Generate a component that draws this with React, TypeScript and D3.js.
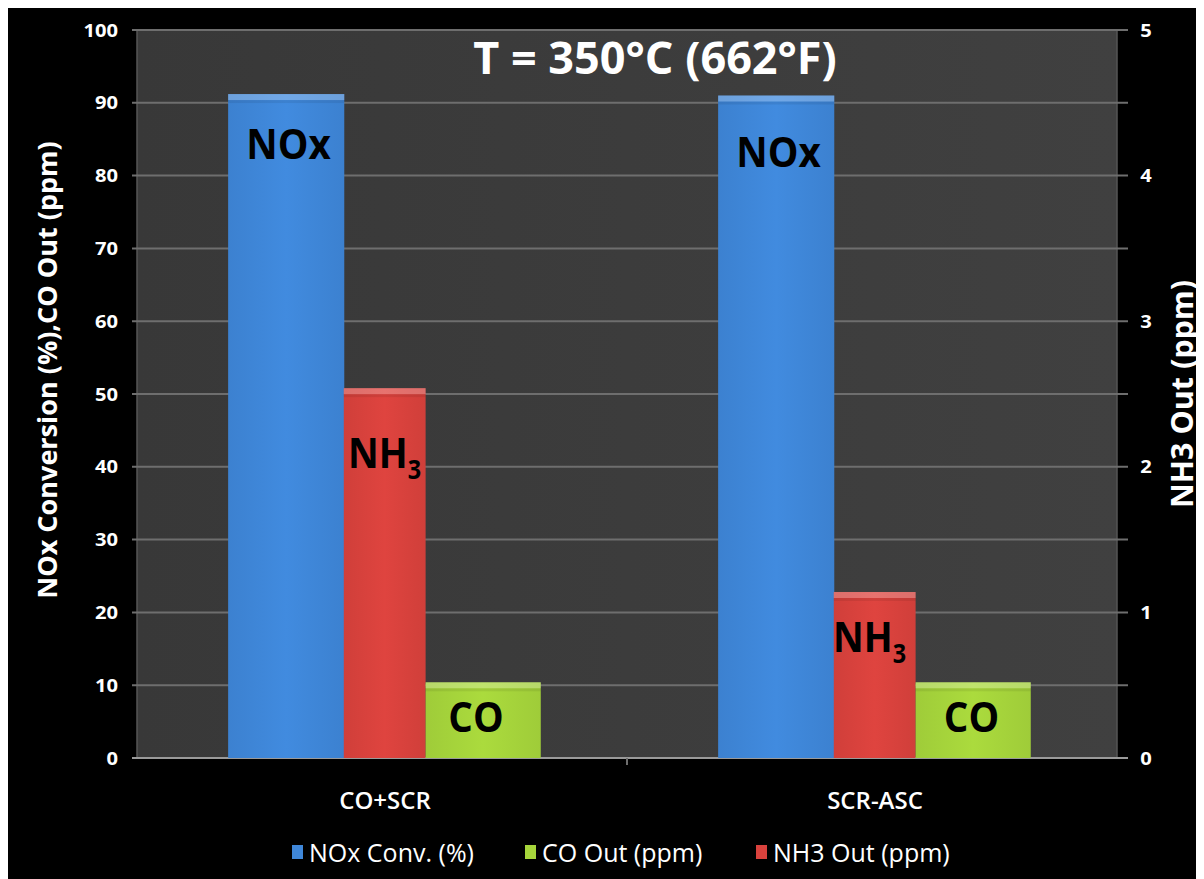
import * as d3 from "d3";

// chart values
const categories = ["CO+SCR", "SCR-ASC"];
const noxConversion = [91.2, 91.0]; // %
const coOut = [10.4, 10.4]; // ppm, left axis
const nh3Out = [2.54, 1.14]; // ppm, right axis
const leftTicks = [0, 10, 20, 30, 40, 50, 60, 70, 80, 90, 100];
const rightTicks = [0, 1, 2, 3, 4, 5];
const legendLabels = ["NOx Conv. (%)", "CO Out (ppm)", "NH3 Out (ppm)"];

const W = 1196;
const H = 874;
const margin = { top: 25, right: 87, bottom: 121, left: 129 };
const FONT = "'Open Sans', 'Noto Sans', sans-serif";

const BLUE = "#3f87d9";
const RED = "#d9423d";
const GREEN = "#a6d53b";

// text squeezed or stretched sideways, the source font is Calibri-like
function SText(props: {
  x: number;
  y: number;
  sx?: number;
  anchor?: string;
  size: number;
  weight?: number | string;
  fill?: string;
  children: any;
}) {
  const { x, y, sx = 1, anchor = "start", size, weight = "normal", fill = "#fff", children } = props;
  return (
    <text
      transform={`translate(${x},${y}) scale(${sx},1)`}
      textAnchor={anchor}
      fontSize={size}
      fontWeight={weight}
      fill={fill}
    >
      {children}
    </text>
  );
}

export default function App() {
  const x = d3
    .scaleBand()
    .domain(categories)
    .range([margin.left, W - margin.right]);
  const y = d3.scaleLinear().domain([0, 100]).range([H - margin.bottom, margin.top]);
  const y2 = d3.scaleLinear().domain([0, 5]).range([H - margin.bottom, margin.top]);
  const bw = x.bandwidth();
  const y0 = y(0);
  const plotL = margin.left;
  const plotR = W - margin.right;
  const mid = (c: string) => (x(c) as number) + bw / 2;

  // bar slots relative to category centre (fractions of band width)
  const slots = {
    nox: { start: -0.314, width: 0.237 },
    nh3: { start: -0.078, width: 0.167 },
    co: { start: 0.089, width: 0.235 },
  };

  const bar = (cat: string, slot: { start: number; width: number }, top: number, fill: string, key: string) => {
    const bx = mid(cat) + slot.start * bw;
    const w = slot.width * bw;
    return (
      <g key={key}>
        <rect x={bx} y={top} width={w} height={y0 - top} fill={`url(#grad-${fill})`} />
        <rect x={bx} y={top} width={w} height={6} fill="#ffffff" opacity={0.25} />
        <rect x={bx} y={top + 6} width={w} height={3} fill="#000000" opacity={0.07} />
      </g>
    );
  };

  const colors: Record<string, string> = { blue: BLUE, red: RED, green: GREEN };

  // label placements (left-axis units, NH3 in right-axis units)
  const noxLab = [82.3, 81.2];
  const noxDx = [-93.5, -93.5];
  const nh3Lab = [1.99, 0.73];
  const nh3Dx = [-34, -39];
  const coDx = [94, 99.5];

  return (
    <svg width={W} height={H} style={{ display: "block", marginTop: -3, fontFamily: FONT }}>
      <defs>
        {Object.entries(colors).map(([k, c]) => (
          <linearGradient key={k} id={`grad-${k}`} x1="0" x2="1" y1="0" y2="0">
            <stop offset="0" stopColor={d3.color(c)!.darker(0.12).toString()} />
            <stop offset="0.5" stopColor={d3.color(c)!.brighter(0.08).toString()} />
            <stop offset="1" stopColor={d3.color(c)!.darker(0.12).toString()} />
          </linearGradient>
        ))}
        <linearGradient id="plotbg" x1="0" x2="1" y1="0" y2="0">
          <stop offset="0" stopColor="#383838" />
          <stop offset="0.5" stopColor="#3c3c3c" />
          <stop offset="1" stopColor="#404040" />
        </linearGradient>
      </defs>
      <rect width={W} height={H} fill="#000" />
      <rect
        x={plotL}
        y={margin.top}
        width={plotR - plotL}
        height={y0 - margin.top}
        fill="url(#plotbg)"
        stroke="#555"
        strokeWidth={1.5}
      />

      {/* grid lines */}
      {leftTicks.map((t) => (
        <line
          key={t}
          x1={plotL - 5}
          x2={plotR + 11}
          y1={y(t)}
          y2={y(t)}
          stroke={t === 0 ? "#9a9a9a" : "#6e6e6e"}
          strokeWidth={2}
        />
      ))}
      <line x1={(plotL + plotR) / 2} x2={(plotL + plotR) / 2} y1={y0} y2={y0 + 7} stroke="#6e6e6e" strokeWidth={2} />

      {/* bars */}
      {categories.map((c, i) => bar(c, slots.nox, y(noxConversion[i]), "blue", `n${i}`))}
      {categories.map((c, i) => bar(c, slots.nh3, y2(nh3Out[i]), "red", `h${i}`))}
      {categories.map((c, i) => bar(c, slots.co, y(coOut[i]), "green", `c${i}`))}

      {/* bar annotations */}
      {categories.map((c, i) => (
        <g key={`lab${i}`}>
          <SText x={mid(c) + noxDx[i]} y={y(noxLab[i])} sx={0.92} anchor="middle" size={42} weight="bold" fill="#000">
            NOx
          </SText>
          <SText x={mid(c) + nh3Dx[i]} y={y2(nh3Lab[i])} sx={0.9} size={42} weight="bold" fill="#000">
            NH<tspan fontSize={26} dy={11}>3</tspan>
          </SText>
          <SText x={mid(c) + coDx[i]} y={y(3.6)} sx={0.92} anchor="middle" size={42} weight="bold" fill="#000">
            CO
          </SText>
        </g>
      ))}

      {/* left ticks */}
      {leftTicks.map((t) => (
        <SText key={t} x={plotL - 19} y={y(t) + 6.5} sx={1.12} anchor="end" size={18} weight="bold">
          {t}
        </SText>
      ))}
      {/* right ticks */}
      {rightTicks.map((t) => (
        <SText key={t} x={plotR + 29} y={y2(t) + 6.5} sx={1.12} anchor="middle" size={18} weight="bold">
          {t}
        </SText>
      ))}

      {/* category labels */}
      {categories.map((c) => (
        <SText key={c} x={mid(c) + 3} y={y0 + 51} anchor="middle" size={24} weight={600}>
          {c}
        </SText>
      ))}

      {/* axis titles */}
      <text
        transform={`translate(49,${(margin.top + y0) / 2 - 24}) rotate(-90)`}
        textAnchor="middle"
        fill="#fff"
        fontSize={27}
        fontWeight="bold"
      >
        NOx Conversion (%),CO Out (ppm)
      </text>
      <text
        transform={`translate(1185,${(margin.top + y0) / 2}) rotate(-90)`}
        textAnchor="middle"
        fill="#fff"
        fontSize={30.5}
        fontWeight="bold"
      >
        NH3 Out (ppm)
      </text>

      {/* title */}
      <SText x={647} y={69} anchor="middle" size={45} weight="bold">
        T = 350°C (662°F)
      </SText>

      {/* legend */}
      {legendLabels.map((l, i) => {
        const lx = [284, 517, 748][i];
        const c = [BLUE, GREEN, RED][i];
        return (
          <g key={l} transform={`translate(${lx},857)`}>
            <rect x={0} y={-17} width={11} height={14} fill={c} />
            <SText x={17} y={0} size={25}>
              {l}
            </SText>
          </g>
        );
      })}
    </svg>
  );
}
